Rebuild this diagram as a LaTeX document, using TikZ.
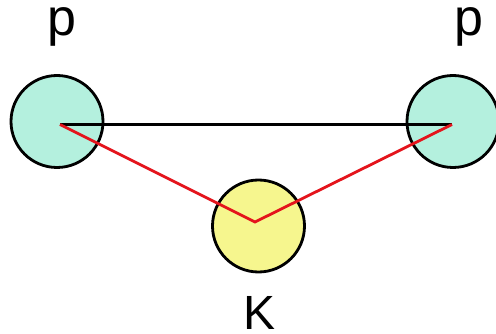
\documentclass[tikz,border=0pt]{standalone}
\usepackage{fontspec}
\setmainfont{Liberation Sans}
\definecolor{aqua}{RGB}{180,240,222}
\definecolor{lemon}{RGB}{246,246,142}
\definecolor{redline}{RGB}{228,20,28}
\begin{document}
\begin{tikzpicture}[x=1pt,y=-1pt,
  ball/.style={circle,draw=black,line width=2.8pt,minimum size=92pt,inner sep=0pt},
  proton/.style={ball,fill=aqua},
  kaon/.style={ball,fill=lemon},
  lbl/.style={anchor=base,inner sep=0pt},
  bond/.style={line width=3pt},
  redbond/.style={draw=redline,line width=2.8pt,line join=miter}]
\useasboundingbox (0,0) rectangle (496,334);
\node[proton] (pl) at (57,121.5) {};
\node[proton] (pr) at (453,121.5) {};
\node[kaon] (k) at (258.5,226) {};
\coordinate (al) at (60,124.5);
\coordinate (ar) at (452,124.5);
\coordinate (ak) at (255,222);
\draw[bond] (al) -- (ar);
\draw[redbond] (al) -- (ak) -- (ar);
\node[lbl,font=\fontsize{52}{56}\selectfont] (tl) at (61.5,36) {p};
\node[lbl,font=\fontsize{52}{56}\selectfont] (tr) at (468.5,36) {p};
\node[lbl,font=\fontsize{48}{52}\selectfont] (tk) at (260,330) {K};
\end{tikzpicture}
\end{document}
